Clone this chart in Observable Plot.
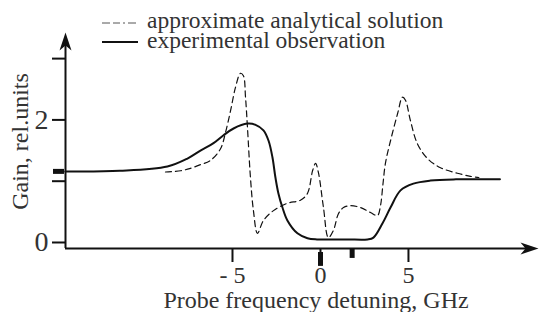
<!DOCTYPE html>
<html><head><meta charset="utf-8">
<script src="https://cdn.jsdelivr.net/npm/d3@7"></script>
<script src="https://cdn.jsdelivr.net/npm/@observablehq/plot@0.6"></script>
<style>
html,body{margin:0;padding:0;background:#fff;}
#wrap{position:relative;width:539px;height:312px;font-family:"Liberation Serif",serif;}
#legend{position:absolute;left:0;top:0;}
</style></head><body>
<div id="wrap"><svg id="legend" width="539" height="60"></svg></div>
<script>
// Experimental observation (solid)
const expX = [-14.5, -11.4, -8.7, -7.56, -6.82, -6.08, -5.51, -4.94, -4.15, -3.69, -3.24, -2.95, -2.73, -2.56, -2.39, -2.16, -1.88, -1.31, -0.74, -0.2, 1.5, 2.67, 3.01, 3.52, 3.98, 4.55, 5.28, 6.25, 7.7, 10.2];
const expY = [1.16, 1.17, 1.24, 1.37, 1.50, 1.62, 1.75, 1.86, 1.94, 1.92, 1.83, 1.66, 1.39, 1.06, 0.80, 0.57, 0.36, 0.15, 0.07, 0.05, 0.05, 0.05, 0.08, 0.31, 0.57, 0.85, 0.96, 1.01, 1.03, 1.03];
// Approximate analytical solution (dashed)
const anaX = [-8.81, -7.95, -7.39, -6.82, -6.25, -5.68, -5.40, -5.11, -4.83, -4.55, -4.38, -4.26, -4.15, -3.98, -3.81, -3.58, -3.24, -2.67, -1.88, -1.14, -0.74, -0.45, -0.28, -0.11, 0.17, 0.45, 0.74, 1.02, 1.31, 1.70, 2.27, 2.84, 3.24, 3.41, 3.55, 3.69, 3.98, 4.38, 4.66, 4.83, 5.11, 5.51, 6.08, 6.82, 7.78, 8.52, 9.0];
const anaY = [1.15, 1.17, 1.21, 1.27, 1.34, 1.53, 1.79, 2.15, 2.53, 2.76, 2.72, 2.37, 1.88, 1.06, 0.52, 0.15, 0.36, 0.52, 0.64, 0.69, 0.80, 1.17, 1.29, 1.13, 0.57, 0.08, 0.20, 0.47, 0.57, 0.60, 0.57, 0.49, 0.44, 0.60, 0.95, 1.29, 1.66, 2.10, 2.37, 2.32, 1.99, 1.61, 1.37, 1.22, 1.13, 1.08, 1.06];
// Axis ticks and markers
const xTicks = [-5, 0, 5];
const yTicks = [0, 1, 2, 3];
const yLabelled = [0, 2];
const xMarkers = [0, 1.8];
const xMarkerTop = [-0.163, -0.114];
const xMarkerBottom = [-0.39, -0.26];
const yMarkers = [1.16];
const xDomain = [-14.49, 12.39];
const yDomain = [-0.098, 3.426];
const xLabel = "Probe frequency detuning, GHz";
const yLabel = "Gain, rel.units";
const legendLabels = ["approximate analytical solution", "experimental observation"];

const expData = expX.map((x, i) => ({x, y: expY[i]}));
const anaData = anaX.map((x, i) => ({x, y: anaY[i]}));
const markerData = xMarkers.map((x, i) => ({x, y1: xMarkerTop[i], y2: xMarkerBottom[i]}));
const FONT = "Liberation Serif";
const TXT = "#333";

const upArrow = {draw(ctx, size) {const k = Math.sqrt(size / Math.PI) / 6; ctx.moveTo(0, 0); ctx.lineTo(-6*k, 18*k); ctx.lineTo(0, 13*k); ctx.lineTo(6*k, 18*k); ctx.closePath();}};
const rightArrow = {draw(ctx, size) {const k = Math.sqrt(size / Math.PI) / 6; ctx.moveTo(0, 0); ctx.lineTo(-18*k, -6*k); ctx.lineTo(-13*k, 0); ctx.lineTo(-18*k, 6*k); ctx.closePath();}};

const chart = Plot.plot({
  width: 539, height: 312,
  marginLeft: 65, marginRight: 1, marginTop: 32, marginBottom: 64,
  style: {fontFamily: FONT, background: "transparent"},
  x: {domain: xDomain},
  y: {domain: yDomain},
  marks: [
    Plot.axisY({ticks: yTicks, tickSize: 13, tickPadding: 4, tickFormat: d => yLabelled.includes(d) ? String(d) : "", fontSize: 28, fill: TXT, strokeWidth: 2, stroke: "#111", label: null}),
    Plot.axisX({ticks: xTicks, tickSize: 14, tickPadding: 3, tickFormat: d => d < 0 ? "- " + Math.abs(d) : String(d), fontSize: 24, fill: TXT, strokeWidth: 2, stroke: "#111", label: null}),
    Plot.ruleX([xDomain[0]], {stroke: "#111", strokeWidth: 2, y1: yDomain[0], y2: yDomain[1] - 0.2}),
    Plot.ruleY([yDomain[0]], {stroke: "#111", strokeWidth: 2, x1: xDomain[0], x2: xDomain[1] - 0.5}),
    Plot.dot([0], {frameAnchor: "top-left", symbol: upArrow, r: 6, fill: "#111", stroke: null}),
    Plot.dot([0], {frameAnchor: "bottom-right", symbol: rightArrow, r: 6, fill: "#111", stroke: null}),
    Plot.ruleY(yMarkers, {x1: xDomain[0], x2: xDomain[0], stroke: "#111", strokeWidth: 5, insetLeft: -12, insetRight: 1}),
    Plot.ruleX(markerData, {x: "x", y1: "y1", y2: "y2", stroke: "#111", strokeWidth: 5}),
    Plot.line(anaData, {x: "x", y: "y", stroke: "#111", strokeWidth: 1.2, strokeDasharray: "6,4", curve: "catmull-rom"}),
    Plot.line(expData, {x: "x", y: "y", stroke: "#111", strokeWidth: 2, curve: "catmull-rom"}),
    Plot.text([xLabel], {frameAnchor: "bottom", dx: 14, dy: 52, lineAnchor: "middle", fontSize: 24, fill: TXT}),
    Plot.text([yLabel], {frameAnchor: "left", rotate: -90, textAnchor: "middle", dx: -45, dy: 1, fontSize: 24, fill: TXT})
  ]
});
document.getElementById("wrap").prepend(chart);
chart.style.position = "absolute"; chart.style.left = "0"; chart.style.top = "0";

const lg = d3.select("#legend");
lg.append("line").attr("x1", 102).attr("x2", 138).attr("y1", 23).attr("y2", 23).attr("stroke", "#555").attr("stroke-width", 1).attr("stroke-dasharray", "8,3,7,3,2,3");
lg.append("line").attr("x1", 102).attr("x2", 138).attr("y1", 42).attr("y2", 42).attr("stroke", "#111").attr("stroke-width", 2);
legendLabels.forEach((t, i) => {
  lg.append("text").attr("x", 147).attr("y", 28 + i * 20).attr("font-family", FONT).attr("font-size", 23.5).attr("fill", TXT).text(t);
});
</script>
</body></html>
